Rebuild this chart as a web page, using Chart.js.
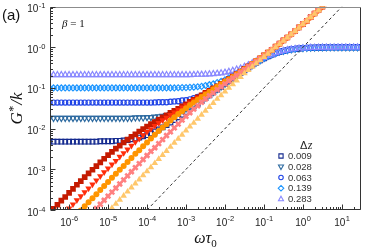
<!DOCTYPE html>
<html><head><meta charset="utf-8">
<script src="https://cdn.jsdelivr.net/npm/chart.js@4/dist/chart.umd.min.js"></script>
<style>html,body{margin:0;padding:0;background:#fff}#wrap{width:374px;height:249px}</style>
</head><body><div id="wrap"><canvas id="c" width="374" height="249"></canvas></div>
<script>
// x grid: log10(omega*tau0)
const logOmega = [-6.5,-6.4,-6.3,-6.2,-6.1,-6.0,-5.9,-5.8,-5.7,-5.6,-5.5,-5.4,-5.3,-5.2,-5.1,-5.0,-4.9,-4.8,-4.7,-4.6,-4.5,-4.4,-4.3,-4.2,-4.1,-4.0,-3.9,-3.8,-3.7,-3.6,-3.5,-3.4,-3.3,-3.2,-3.1,-3.0,-2.9,-2.8,-2.7,-2.6,-2.5,-2.4,-2.3,-2.2,-2.1,-2.0,-1.9,-1.8,-1.7,-1.6,-1.5,-1.4,-1.3,-1.2,-1.1,-1.0,-0.9,-0.8,-0.7,-0.6,-0.5,-0.4,-0.3,-0.2,-0.1,0.0,0.1,0.2,0.3,0.4,0.5,0.6,0.7,0.8,0.9,1.0,1.1,1.2,1.3,1.4,1.5];

// open (blue) series: log10(G*/k)
const open009 = [-2.32,-2.32,-2.32,-2.32,-2.32,-2.32,-2.32,-2.32,-2.32,-2.32,-2.32,-2.32,-2.32,-2.31,-2.31,-2.31,-2.31,-2.30,-2.30,-2.29,-2.28,-2.26,-2.24,-2.22,-2.19,-2.16,-2.12,-2.07,-2.02,-1.97,-1.91,-1.85,-1.79,-1.72,-1.66,-1.59,-1.52,-1.45,-1.39,-1.32,-1.25,-1.18,-1.11,-1.04,-0.97,-0.90,-0.83,-0.76,-0.70,-0.63,-0.565,-0.50,-0.44,-0.38,-0.32,-0.27,-0.22,-0.18,-0.145,-0.11,-0.09,-0.07,-0.05,-0.04,-0.03,-0.02,-0.015,-0.01,-0.008,-0.006,-0.004,-0.003,-0.002,-0.002,-0.001,-0.001,-0.001,0,0,0,0];
const open028 = [-1.74,-1.74,-1.74,-1.74,-1.74,-1.74,-1.74,-1.74,-1.74,-1.74,-1.74,-1.74,-1.74,-1.74,-1.74,-1.74,-1.74,-1.74,-1.74,-1.74,-1.74,-1.74,-1.73,-1.73,-1.73,-1.72,-1.72,-1.71,-1.70,-1.69,-1.67,-1.65,-1.62,-1.59,-1.55,-1.51,-1.46,-1.41,-1.35,-1.29,-1.23,-1.16,-1.10,-1.03,-0.965,-0.90,-0.83,-0.76,-0.695,-0.63,-0.565,-0.50,-0.44,-0.38,-0.32,-0.27,-0.22,-0.18,-0.145,-0.11,-0.09,-0.07,-0.05,-0.04,-0.03,-0.02,-0.015,-0.01,-0.008,-0.006,-0.004,-0.003,-0.002,-0.002,-0.001,-0.001,-0.001,0,0,0,0];
const open063 = [-1.36,-1.36,-1.36,-1.36,-1.36,-1.36,-1.36,-1.36,-1.36,-1.36,-1.36,-1.36,-1.36,-1.36,-1.36,-1.36,-1.36,-1.36,-1.36,-1.36,-1.36,-1.36,-1.36,-1.36,-1.36,-1.36,-1.36,-1.355,-1.35,-1.35,-1.35,-1.34,-1.33,-1.325,-1.31,-1.30,-1.28,-1.25,-1.22,-1.19,-1.15,-1.10,-1.05,-1.00,-0.94,-0.88,-0.815,-0.75,-0.69,-0.625,-0.56,-0.50,-0.44,-0.38,-0.32,-0.27,-0.22,-0.18,-0.145,-0.11,-0.09,-0.07,-0.05,-0.04,-0.03,-0.02,-0.015,-0.01,-0.008,-0.006,-0.004,-0.003,-0.002,-0.002,-0.001,-0.001,-0.001,0,0,0,0];
const open139 = [-1.00,-1.00,-1.00,-1.00,-1.00,-1.00,-1.00,-1.00,-1.00,-1.00,-1.00,-1.00,-1.00,-1.00,-1.00,-1.00,-1.00,-1.00,-1.00,-1.00,-1.00,-1.00,-1.00,-1.00,-1.00,-1.00,-1.00,-1.00,-1.00,-1.00,-1.00,-1.00,-1.00,-0.995,-0.99,-0.99,-0.985,-0.98,-0.97,-0.96,-0.94,-0.92,-0.90,-0.87,-0.84,-0.80,-0.75,-0.705,-0.65,-0.60,-0.54,-0.48,-0.43,-0.37,-0.32,-0.27,-0.22,-0.18,-0.145,-0.11,-0.09,-0.07,-0.05,-0.04,-0.03,-0.02,-0.015,-0.01,-0.008,-0.006,-0.004,-0.003,-0.002,-0.002,-0.001,-0.001,-0.001,0,0,0,0];
const open283 = [-0.68,-0.68,-0.68,-0.68,-0.68,-0.68,-0.68,-0.68,-0.68,-0.68,-0.68,-0.68,-0.68,-0.68,-0.68,-0.68,-0.68,-0.68,-0.68,-0.68,-0.68,-0.68,-0.68,-0.68,-0.68,-0.68,-0.68,-0.68,-0.68,-0.68,-0.68,-0.68,-0.68,-0.68,-0.68,-0.68,-0.68,-0.675,-0.67,-0.67,-0.665,-0.66,-0.655,-0.645,-0.635,-0.62,-0.60,-0.575,-0.545,-0.515,-0.475,-0.435,-0.39,-0.345,-0.30,-0.255,-0.21,-0.175,-0.14,-0.11,-0.085,-0.065,-0.05,-0.037,-0.028,-0.02,-0.015,-0.01,-0.008,-0.006,-0.004,-0.003,-0.002,-0.002,-0.001,-0.001,-0.001,0,0,0,0];

// filled (red/orange) series: log10(G*/k)
const fill009 = [-4.07,-3.97,-3.87,-3.77,-3.68,-3.58,-3.48,-3.38,-3.29,-3.19,-3.10,-3.01,-2.92,-2.83,-2.74,-2.65,-2.57,-2.49,-2.42,-2.34,-2.27,-2.20,-2.14,-2.07,-2.01,-1.95,-1.89,-1.84,-1.78,-1.72,-1.67,-1.61,-1.56,-1.51,-1.45,-1.40,-1.34,-1.29,-1.23,-1.18,-1.12,-1.07,-1.01,-0.96,-0.90,-0.84,-0.78,-0.72,-0.66,-0.60,-0.53,-0.47,-0.41,-0.34,-0.27,-0.20,-0.13,-0.06,0.02,0.09,0.17,0.24,0.32,0.40,0.49,0.57,0.65,0.74,0.83,0.91,1.00,1.09,null,null,null,null,null,null,null,null,null];
const fill028 = [null,null,null,-4.16,-4.06,-3.96,-3.86,-3.76,-3.66,-3.56,-3.47,-3.37,-3.27,-3.17,-3.07,-2.98,-2.88,-2.79,-2.69,-2.60,-2.51,-2.42,-2.33,-2.25,-2.16,-2.08,-2.01,-1.93,-1.86,-1.79,-1.73,-1.66,-1.60,-1.54,-1.48,-1.42,-1.36,-1.30,-1.24,-1.19,-1.13,-1.07,-1.02,-0.96,-0.90,-0.84,-0.78,-0.72,-0.66,-0.60,-0.53,-0.47,-0.41,-0.34,-0.27,-0.20,-0.13,-0.06,0.02,0.09,0.17,0.24,0.32,0.40,0.49,0.57,0.65,0.74,0.83,0.91,1.00,1.09,null,null,null,null,null,null,null,null,null];
const fill063 = [null,null,null,null,null,null,null,-4.11,-4.01,-3.91,-3.81,-3.71,-3.61,-3.51,-3.41,-3.31,-3.21,-3.11,-3.01,-2.92,-2.82,-2.72,-2.62,-2.53,-2.43,-2.34,-2.24,-2.15,-2.06,-1.97,-1.89,-1.80,-1.72,-1.64,-1.57,-1.50,-1.42,-1.36,-1.29,-1.22,-1.16,-1.10,-1.03,-0.97,-0.91,-0.85,-0.79,-0.73,-0.66,-0.60,-0.54,-0.48,-0.41,-0.34,-0.27,-0.20,-0.13,-0.06,0.02,0.09,0.17,0.24,0.32,0.40,0.49,0.57,0.65,0.74,0.83,0.91,1.00,1.09,null,null,null,null,null,null,null,null,null];
const fill139 = [null,null,null,null,null,null,null,null,null,null,null,-4.06,-3.96,-3.86,-3.76,-3.66,-3.56,-3.46,-3.36,-3.26,-3.16,-3.06,-2.96,-2.86,-2.76,-2.66,-2.56,-2.47,-2.37,-2.27,-2.17,-2.08,-1.98,-1.89,-1.79,-1.70,-1.61,-1.52,-1.44,-1.35,-1.27,-1.19,-1.12,-1.04,-0.97,-0.90,-0.83,-0.76,-0.69,-0.62,-0.55,-0.48,-0.42,-0.35,-0.28,-0.21,-0.14,-0.06,0.01,0.09,0.17,0.24,0.32,0.40,0.49,0.57,0.65,0.74,0.83,0.91,1.00,1.09,null,null,null,null,null,null,null,null,null];
const fill283 = [null,null,null,null,null,null,null,null,null,null,null,null,null,null,null,-4.05,-3.95,-3.85,-3.75,-3.65,-3.55,-3.45,-3.35,-3.25,-3.15,-3.05,-2.95,-2.85,-2.75,-2.65,-2.55,-2.45,-2.35,-2.25,-2.15,-2.05,-1.95,-1.86,-1.76,-1.66,-1.56,-1.47,-1.37,-1.27,-1.18,-1.09,-1.00,-0.91,-0.82,-0.73,-0.64,-0.56,-0.48,-0.40,-0.32,-0.24,-0.16,-0.08,0.00,0.08,0.16,0.24,0.32,0.40,0.48,0.57,0.65,0.74,0.82,0.91,1.00,1.09,null,null,null,null,null,null,null,null,null];

// reference line G*/k = omega*tau0
const guideX = [1e-4, 10];
const guideY = [1e-4, 10];

const legendLabels = ['0.009','0.028','0.063','0.139','0.283'];
const xTickValues = [1e-6,1e-5,1e-4,1e-3,1e-2,1e-1,1e0,1e1];
const xTickExps = ['-6','-5','-4','-3','-2','-1','0','1'];
const yTickValues = [1e-4,1e-3,1e-2,1e-1,1e0,1e1];
const yTickExps = ['-4','-3','-2','-1','-0','-1'];
const xRangeLog = [-6.49, 1.49];
const yRangeLog = [-4, 1];

function pts(series){
  const out=[];
  for(let i=0;i<logOmega.length;i++){
    if(series[i]!==null) out.push({x:Math.pow(10,logOmega[i]), y:Math.pow(10,series[i])});
  }
  return out;
}

const T='rgba(0,0,0,0)';
const openStyles = [
  {c:'#142a8f', s:'rect', r:3.3, rot:0},
  {c:'#2d6aa0', s:'triangle', r:3.4, rot:180},
  {c:'#1f43e6', s:'circle', r:2.6, rot:0},
  {c:'#1e96ff', s:'rectRot', r:3.0, rot:0},
  {c:'#8888ff', s:'triangle', r:3.4, rot:0}
];
const fillStyles = [
  {c:'#c41a00', s:'rect', r:4.0, rot:0, bw:0},
  {c:'#ff2d0a', s:'triangle', r:3.8, rot:180, bw:0},
  {c:'#ff9500', s:'circle', r:3.0, rot:0, bw:0},
  {c:'#ff8080', s:'crossRot', r:3.2, rot:0, bw:2.6},
  {c:'#ffc76b', s:'triangle', r:3.8, rot:0, bw:0}
];
const openData = [open009, open028, open063, open139, open283];
const fillData = [fill009, fill028, fill063, fill139, fill283];

const datasets = [];
openData.forEach((d,i)=>{
  const st=openStyles[i];
  datasets.push({label:legendLabels[i], data:pts(d), pointStyle:st.s, rotation:st.rot, pointRadius:st.r,
    borderColor:st.c, backgroundColor:T, pointBorderWidth:1.2, borderWidth:1.2, showLine:false, clip:0, order:10-i});
});
fillData.forEach((d,i)=>{
  const st=fillStyles[i];
  datasets.push({label:'f'+legendLabels[i], data:pts(d), pointStyle:st.s, rotation:st.rot, pointRadius:st.r,
    borderColor:st.c, backgroundColor:st.c, pointBorderWidth:st.bw, borderWidth:st.bw, showLine:false, clip:0, order:5-i});
});
datasets.push({label:'guide', data:guideX.map((x,i)=>({x:x,y:guideY[i]})), showLine:true, pointRadius:0,
  borderColor:'#333', borderWidth:1, borderDash:[3,2.6], clip:0, order:0});

function drawMarker(ctx, st, x, y, r){
  ctx.save();
  ctx.strokeStyle=st.c; ctx.lineWidth=1.1;
  ctx.beginPath();
  if(st.s==='rect'){ ctx.rect(x-r*0.75,y-r*0.75,r*1.5,r*1.5); }
  else if(st.s==='circle'){ ctx.arc(x,y,r*0.8,0,Math.PI*2); }
  else if(st.s==='rectRot'){ ctx.moveTo(x,y-r); ctx.lineTo(x+r,y); ctx.lineTo(x,y+r); ctx.lineTo(x-r,y); ctx.closePath(); }
  else if(st.s==='triangle'){
    const s = st.rot===180?-1:1;
    ctx.moveTo(x,y-s*r); ctx.lineTo(x+r*0.9,y+s*r*0.6); ctx.lineTo(x-r*0.9,y+s*r*0.6); ctx.closePath();
  }
  ctx.stroke();
  ctx.restore();
}

const decor = {
  id:'decor',
  afterDatasetsDraw(chart){
    const ctx=chart.ctx, a=chart.chartArea, xs=chart.scales.x, ys=chart.scales.y;
    ctx.save();
    const L=Math.round(a.left)+0.5, R=Math.round(a.right)-0.5, Tp=Math.round(a.top)+0.5, B=Math.round(a.bottom)-0.5;
    ctx.lineWidth=1;
    ctx.strokeStyle='#8c8c8c';
    ctx.beginPath(); ctx.moveTo(L,Tp); ctx.lineTo(R,Tp); ctx.stroke();
    ctx.strokeStyle='#333';
    ctx.beginPath(); ctx.moveTo(R,Tp); ctx.lineTo(R,B); ctx.lineTo(L,B); ctx.lineTo(L,Tp); ctx.stroke();
    // ticks
    ctx.strokeStyle='#333';
    for(let n=-7;n<=1;n++){
      for(let k=1;k<=9;k++){
        const v=k*Math.pow(10,n);
        if(v>=xs.min && v<=xs.max){
          const px=Math.round(xs.getPixelForValue(v))+0.5;
          const len=k===1?5:2.5;
          ctx.beginPath(); ctx.moveTo(px,B); ctx.lineTo(px,B-len); ctx.stroke();
        }
        if(v>=ys.min && v<=ys.max){
          const py=Math.round(ys.getPixelForValue(v))+0.5;
          const len=k===1?5:2.5;
          ctx.beginPath(); ctx.moveTo(L,py); ctx.lineTo(L+len,py); ctx.stroke();
        }
      }
    }
    // tick labels
    ctx.fillStyle='#222';
    ctx.textBaseline='alphabetic';
    const bf='10px "Liberation Sans", Arial, sans-serif', ef='7.5px "Liberation Sans", Arial, sans-serif';
    xTickValues.forEach((v,i)=>{
      const px=xs.getPixelForValue(v);
      ctx.font=bf; const wb=ctx.measureText('10').width;
      ctx.font=ef; const we=ctx.measureText(xTickExps[i]).width;
      const x0=px-(wb+we)/2;
      ctx.font=bf; ctx.textAlign='left'; ctx.fillText('10',x0,a.bottom+15.5);
      ctx.font=ef; ctx.fillText(xTickExps[i],x0+wb+0.3,a.bottom+11);
    });
    yTickValues.forEach((v,i)=>{
      const py=ys.getPixelForValue(v);
      ctx.font=bf; const wb=ctx.measureText('10').width;
      ctx.font=ef; const we=ctx.measureText(yTickExps[i]).width;
      const x0=a.left-5-(wb+we);
      ctx.font=bf; ctx.textAlign='left'; ctx.fillText('10',x0,py+5.5);
      ctx.font=ef; ctx.fillText(yTickExps[i],x0+wb+0.3,py+1.5);
    });
    // axis titles
    ctx.fillStyle='#111';
    const cx=(a.left+a.right)/2;
    ctx.font='italic 16px "Liberation Serif", "Times New Roman", serif';
    const w1=ctx.measureText('ωτ').width;
    ctx.font='11px "Liberation Serif", serif';
    const w2=ctx.measureText('0').width;
    let xx=cx-(w1+w2)/2;
    ctx.font='italic 16px "Liberation Serif", "Times New Roman", serif';
    ctx.fillText('ωτ',xx,243);
    ctx.font='11px "Liberation Serif", serif';
    ctx.fillText('0',xx+w1,247);
    // y title
    ctx.save();
    ctx.translate(22,(a.top+a.bottom)/2);
    ctx.rotate(-Math.PI/2);
    ctx.font='italic 17px "Liberation Serif", "Times New Roman", serif';
    const g1=ctx.measureText('G').width;
    ctx.font='12px "Liberation Serif", serif';
    const g2=ctx.measureText('*').width;
    ctx.font='italic 17px "Liberation Serif", "Times New Roman", serif';
    const g3=ctx.measureText('/k').width;
    let yy=-(g1+g2+g3+2)/2;
    ctx.fillText('G',yy,0);
    ctx.font='12px "Liberation Serif", serif';
    ctx.fillText('*',yy+g1+0.5,-5);
    ctx.font='italic 17px "Liberation Serif", "Times New Roman", serif';
    ctx.fillText('/k',yy+g1+g2+1.5,0);
    ctx.restore();
    // panel label
    ctx.font='15px "Liberation Sans", Arial, sans-serif';
    ctx.fillStyle='#111';
    ctx.fillText('(a)',2,20);
    ctx.font='italic 11px "Liberation Serif", serif';
    ctx.fillText('β',62,27);
    const wbeta=ctx.measureText('β').width;
    ctx.font='11px "Liberation Serif", serif';
    ctx.fillText(' = 1',62+wbeta,27);
    // legend
    ctx.font='11px "Liberation Sans", Arial, sans-serif';
    ctx.fillStyle='#222';
    ctx.fillText('Δ',300,149);
    const wd=ctx.measureText('Δ').width;
    ctx.font='italic 12px "Liberation Serif", serif';
    ctx.fillText('z',300+wd+0.5,149);
    ctx.font='9.5px "Liberation Sans", Arial, sans-serif';
    ctx.fillStyle='#333';
    ctx.textBaseline='middle';
    legendLabels.forEach((lab,i)=>{
      const ly=156+i*10.75;
      drawMarker(ctx, openStyles[i], 281, ly, 2.8);
      ctx.fillText(lab,288,ly+0.5);
    });
    ctx.restore();
  }
};

new Chart(document.getElementById('c'), {
  type:'scatter',
  data:{datasets:datasets},
  options:{
    responsive:false, animation:false, devicePixelRatio:1,
    layout:{padding:{left:50,right:13,top:5,bottom:39}},
    plugins:{legend:{display:false}, tooltip:{enabled:false}},
    scales:{
      x:{type:'logarithmic', min:Math.pow(10,xRangeLog[0]), max:Math.pow(10,xRangeLog[1]), display:false},
      y:{type:'logarithmic', min:Math.pow(10,yRangeLog[0]), max:Math.pow(10,yRangeLog[1]), display:false}
    }
  },
  plugins:[decor]
});
</script>
</body></html>
